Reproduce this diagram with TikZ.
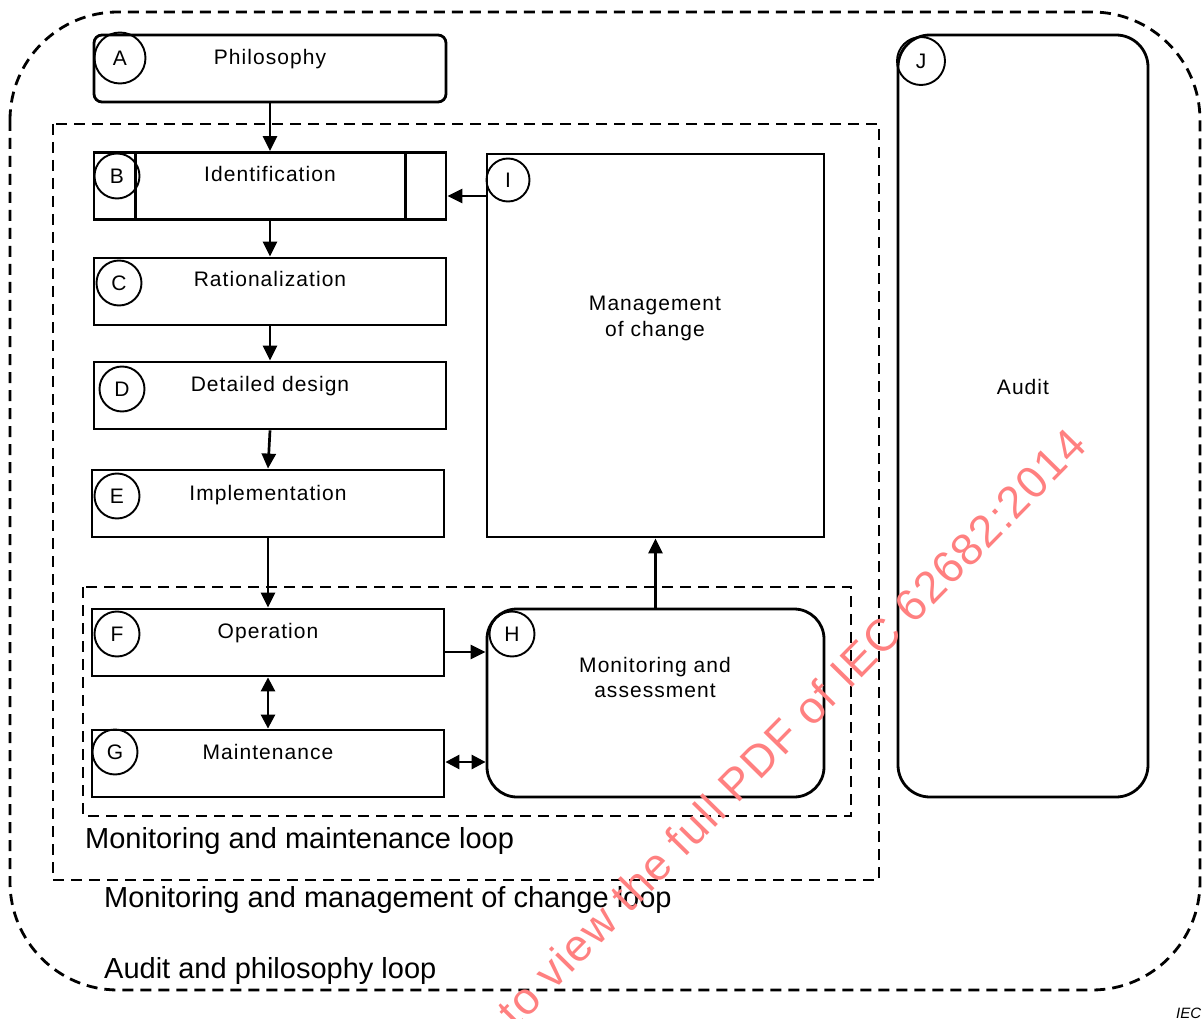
\documentclass[tikz,border=0pt]{standalone}
\usepackage{fontspec}
\setmainfont{Liberation Sans}
\newfontfamily\boxfont[LetterSpace=5]{Liberation Sans}
\newfontfamily\markfont[LetterSpace=3]{Liberation Sans}
\usetikzlibrary{arrows.meta,calc}
\begin{document}
\begin{tikzpicture}[x=1pt,y=-1pt,
  block/.style={draw, line width=2.8pt, inner sep=0pt, minimum width=352pt, minimum height=67pt},
  bigblock/.style={draw, line width=2.8pt, inner sep=0pt},
  badge/.style={draw, circle, line width=1.9pt, minimum size=45pt, inner sep=0pt,
    font=\fontsize{21}{24}\selectfont},
  lbl/.style={anchor=base, inner sep=0pt, align=center,
    font=\boxfont\fontsize{21}{25}\selectfont},
  looplbl/.style={anchor=base west, inner sep=0pt, font=\fontsize{29}{34}\selectfont},
  loopline/.style={line width=2.8pt, dash pattern=on 11pt off 7pt},
  arr/.style={line width=2.7pt, -{Triangle[length=15pt,width=14pt]}},
  darr/.style={line width=2.7pt, {Triangle[length=14pt,width=14pt]}-{Triangle[length=14pt,width=14pt]}}]

\useasboundingbox (0,0) rectangle (1203,1019);

% loops
\draw[loopline, rounded corners=108pt] (10,12) rectangle (1200,990);
\draw[loopline] (53,124) rectangle (879,880);
\draw[loopline] (83,587) rectangle (851,816);

\node[looplbl] (l1) at (85,848) {Monitoring and maintenance loop};
\node[looplbl] (l2) at (104,907) {Monitoring and management of change loop};
\node[looplbl] (l3) at (104,978) {Audit and philosophy loop};

% blocks
\node[block, rounded corners=8pt] (a) at (270,68.5) {};
\node[block] (b) at (270,186) {};
\draw[line width=2.8pt] ($(b.north west)+(43,0)$) -- ($(b.south west)+(43,0)$);
\draw[line width=2.8pt] ($(b.north east)+(-42,0)$) -- ($(b.south east)+(-42,0)$);
\node[block] (c) at (270,291.5) {};
\node[block] (d) at (270,395.5) {};
\node[block] (e) at (268,503.5) {};
\node[block] (f) at (268,642.5) {};
\node[block] (g) at (268,763.5) {};
\node[bigblock, rounded corners=30pt, minimum width=337pt, minimum height=188pt] (h) at (655.5,703) {};
\node[bigblock, minimum width=337pt, minimum height=383pt] (i) at (655.5,345.5) {};
\node[bigblock, rounded corners=32pt, minimum width=250pt, minimum height=762pt] (j) at (1023,416) {};

% block texts
\node[lbl] (ta) at (270,65) {Philosophy};
\node[lbl] (tb) at (270,182) {Identification};
\node[lbl] (tc) at (270,287) {Rationalization};
\node[lbl] (td) at (270,391) {Detailed design};
\node[lbl] (te) at (268,500) {Implementation};
\node[lbl] (tf) at (268,638) {Operation};
\node[lbl] (tg) at (268,759) {Maintenance};
\node[lbl] (th) at (655,697) {Monitoring and\\assessment};
\node[lbl] (ti) at (655,336) {Management\\of change};
\node[lbl] (tj) at (1023,394) {Audit};

% letter badges
\node[badge, minimum width=51pt] (ba) at (120,58) {A};
\node[badge] (bb) at (117,176) {B};
\node[badge] (bc) at (119,283) {C};
\node[badge] (bd) at (122,389) {D};
\node[badge] (be) at (117,496) {E};
\node[badge] (bf) at (117,634) {F};
\node[badge] (bg) at (115,752) {G};
\node[badge] (bh) at (512,634) {H};
\node[badge, minimum size=43pt] (bi) at (508,180) {I};
\node[badge, minimum size=48pt] (bj) at (921,61) {J};

% connectors
\draw[arr] (a.south) -- (b.north);
\draw[arr] ([yshift=-10pt]b.east -| i.west) -- ([yshift=-10pt]b.east);
\draw[arr] (b.south) -- (c.north);
\draw[arr] (c.south) -- (d.north);
\draw[arr] (d.south) -- (e.north);
\draw[arr] (e.south) -- (f.north);
\draw[darr] (f.south) -- (g.north);
\draw[arr] ([yshift=-9.5pt]f.east) -- ([yshift=-9.5pt]f.east -| h.west);
\draw[darr] ([yshift=1.5pt]g.east) -- ([yshift=1.5pt]g.east -| h.west);
\draw[arr] (h.north) -- (i.south);

% figure reference and overprint
\node[anchor=base west, inner sep=0pt, font=\itshape\fontsize{15}{18}\selectfont] (ref) at (1176,1018) {IEC};
\begin{scope}
\clip (0,0) rectangle (1203,1019);
\node[anchor=base east, inner sep=0pt, rotate=45.5, text=red!50, font=\markfont\fontsize{45}{54}\selectfont] (wm) at (1089,447) {Click to view the full PDF of IEC 62682:2014};
\end{scope}
\end{tikzpicture}
\end{document}
